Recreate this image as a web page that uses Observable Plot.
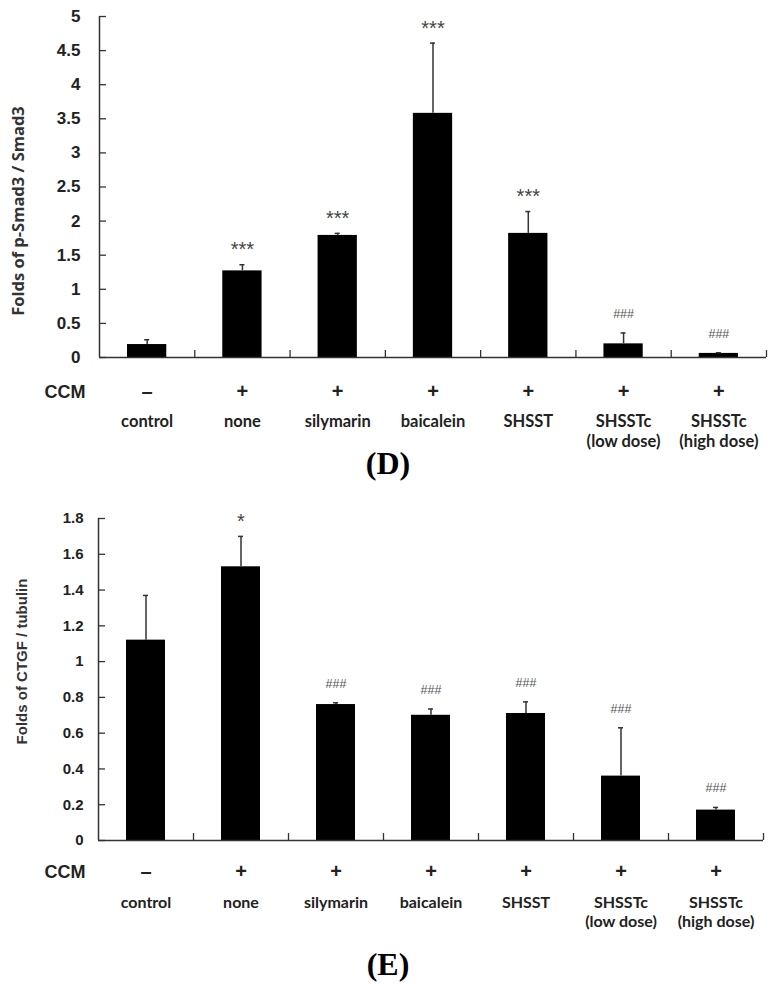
<!DOCTYPE html>
<html><head><meta charset="utf-8">
<script src="https://cdn.jsdelivr.net/npm/d3@7"></script>
<script src="https://cdn.jsdelivr.net/npm/@observablehq/plot@0.6"></script>
<style>
body{margin:0;background:#fff;}
#wrap{position:relative;width:781px;height:993px;overflow:hidden;background:#fff;}
.panel{position:absolute;left:0;}
.tag{position:absolute;left:0;width:776px;text-align:center;font-family:"Liberation Serif","Times New Roman",serif;font-weight:bold;font-size:32px;line-height:36px;color:#000;}
</style></head><body>
<div id="wrap">
  <div class="panel" id="pD" style="top:0px"></div>
  <div class="tag" style="top:445px">(D)</div>
  <div class="panel" id="pE" style="top:490px"></div>
  <div class="tag" style="top:946px">(E)</div>
</div>
<script>
const categories = ["control", "none", "silymarin", "baicalein", "SHSST", "SHSSTc\n(low dose)", "SHSSTc\n(high dose)"];
const ccmSigns = ["–", "+", "+", "+", "+", "+", "+"];

const smadValues = [0.19, 1.27, 1.79, 3.58, 1.82, 0.20, 0.06];
const smadErrors = [0.07, 0.09, 0.03, 1.03, 0.32, 0.16, 0.01];
const smadSig = ["", "***", "***", "***", "***", "###", "###"];
const smadTicks = [0, 0.5, 1, 1.5, 2, 2.5, 3, 3.5, 4, 4.5, 5];

const ctgfValues = [1.12, 1.53, 0.76, 0.70, 0.71, 0.36, 0.17];
const ctgfErrors = [0.25, 0.17, 0.01, 0.035, 0.065, 0.27, 0.015];
const ctgfSig = ["", "*", "###", "###", "###", "###", "###"];
const ctgfTicks = [0, 0.2, 0.4, 0.6, 0.8, 1, 1.2, 1.4, 1.6, 1.8];

const SANS = "'Liberation Sans', Arial, sans-serif";
const CAL = "Lato, 'Open Sans', sans-serif";
const OPEN = "'Open Sans', Lato, sans-serif";
const INK = "#222";

function panel(o) {
  const n = categories.length;
  const rows = categories.map((c, i) => ({i, c, ccm: ccmSigns[i], v: o.values[i], e: o.errors[i], s: o.sig[i]}));
  const fmt = d => String(+d.toFixed(2));
  const svg = Plot.plot({
    width: 781, height: o.height,
    marginTop: o.marginTop, marginBottom: o.marginBottom, marginLeft: o.marginLeft, marginRight: o.marginRight,
    style: {background: "transparent", overflow: "visible"},
    x: {domain: [0, n], axis: null},
    y: {domain: [0, o.ticks[o.ticks.length - 1]], axis: null},
    marks: [
      Plot.rectY(rows, {x1: d => d.i, x2: d => d.i + 1, y1: 0, y2: "v", fill: "#000", insetLeft: 28, insetRight: 28}),
      Plot.ruleX(rows, {x: d => d.i + 0.5, y1: "v", y2: d => d.v + d.e, stroke: "#333", strokeWidth: 1.5}),
      Plot.ruleY(rows, {x1: d => d.i + 0.5, x2: d => d.i + 0.5, y: d => d.v + d.e, insetLeft: -2.5, insetRight: -2.5, stroke: "#333", strokeWidth: 1.5}),
      Plot.text(rows.filter(d => d.s.startsWith("*")), {x: d => d.i + 0.5, y: d => d.v + d.e, text: "s", lineAnchor: "bottom", dy: -8.5, fontSize: 20, fontFamily: SANS, fill: "#444", ariaLabel: "stars"}),
      Plot.text(rows.filter(d => d.s.startsWith("#")), {x: d => d.i + 0.5, y: d => d.v + d.e, text: "s", lineAnchor: "bottom", dy: -15, fontSize: 12.5, fontFamily: SANS, fill: "#555", ariaLabel: "hashes"}),
      Plot.ruleX([0], {stroke: "#333", strokeWidth: 1.5}),
      Plot.ruleY([0], {stroke: "#333", strokeWidth: 1.5}),
      Plot.ruleY(o.ticks, {x1: 0, x2: 0, y: d => d, insetRight: -7, stroke: "#333", strokeWidth: 1.3}),
      Plot.ruleX(d3.range(1, n + 1), {x: d => d, y1: 0, y2: 0, insetTop: -7, stroke: "#333", strokeWidth: 1.3}),
      Plot.axisY({ticks: o.ticks, tickSize: 0, tickPadding: o.tickPadding, tickFormat: fmt, fontSize: o.tickFont, fontWeight: "bold", fontFamily: SANS, fill: INK, label: null}),
      Plot.text(rows, {x: d => d.i + 0.5, text: "ccm", frameAnchor: "bottom", dy: o.ccmDy, fontSize: 20, fontWeight: "bold", fontFamily: SANS, fill: INK}),
      Plot.text(["CCM"], {text: d => d, frameAnchor: "bottom-left", textAnchor: "end", dx: o.ccmDx, dy: o.ccmDy, fontSize: 18, fontWeight: "bold", fontFamily: SANS, fill: INK}),
      Plot.text(rows, {x: d => d.i + 0.5, text: "c", frameAnchor: "bottom", lineAnchor: "top", dy: o.catDy, lineHeight: o.lineHeight, fontSize: o.catFont, fontWeight: "bold", fontFamily: CAL, fill: INK}),
      Plot.text([o.yLabel], {text: d => d, frameAnchor: "left", textAnchor: "middle", rotate: -90, dx: o.labelDx, dy: o.labelDy, fontSize: o.labelFont, fontWeight: "bold", fontFamily: o.labelFamily, fill: "#333"})
    ]
  });
  d3.select(svg).selectAll('g[aria-label="stars"] text').style("letter-spacing", "1px");
  d3.select(svg).selectAll('g[aria-label="hashes"] text').style("letter-spacing", "0.5px");
  return svg;
}

document.getElementById("pD").append(panel({
  values: smadValues, errors: smadErrors, sig: smadSig, ticks: smadTicks,
  height: 452, marginTop: 16, marginBottom: 95, marginLeft: 99, marginRight: 15,
  tickFont: 17, tickPadding: 19, ccmDy: 40, ccmDx: -14, catDy: 55.5, catFont: 16.5, lineHeight: 1.21,
  yLabel: "Folds of p-Smad3 / Smad3", labelFont: 16.5, labelFamily: OPEN, labelDx: -81, labelDy: 24
}));
document.getElementById("pE").append(panel({
  values: ctgfValues, errors: ctgfErrors, sig: ctgfSig, ticks: ctgfTicks,
  height: 452, marginTop: 28, marginBottom: 102, marginLeft: 98, marginRight: 18,
  tickFont: 15, tickPadding: 15, ccmDy: 37, ccmDx: -13, catDy: 54, catFont: 16, lineHeight: 1.2,
  yLabel: "Folds of CTGF / tubulin", labelFont: 15, labelFamily: SANS, labelDx: -76, labelDy: -18
}));
</script>
</body></html>
